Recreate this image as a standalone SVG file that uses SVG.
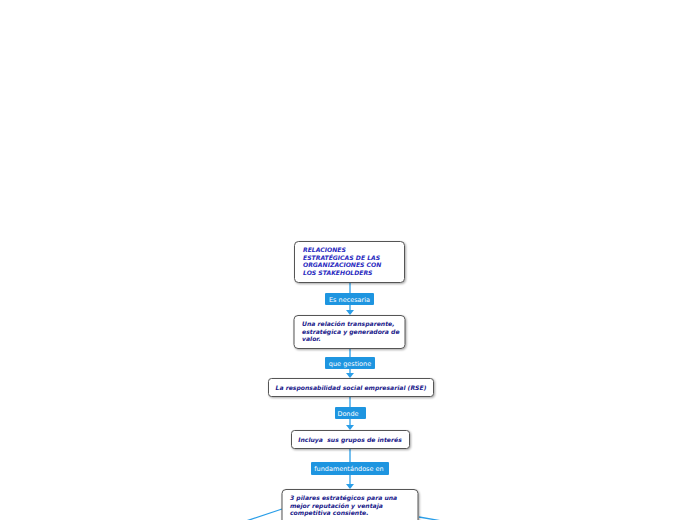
<svg xmlns="http://www.w3.org/2000/svg" width="696" height="520" viewBox="0 0 696 520">
<defs>
<style>
.box{fill:#fff;stroke:#555;stroke-width:1;filter:url(#sh)}
.t{font-family:"DejaVu Sans",Verdana,sans-serif;font-size:6.1px;font-weight:bold;font-style:italic;fill:#1a1a8a}
.t1{fill:#2a2ac0}
.lbl{fill:#1e95e0}
.lt{font-family:"DejaVu Sans",Verdana,sans-serif;font-size:6.5px;fill:#fff;text-anchor:middle}
.ln{stroke:#2a9ee8;stroke-width:1.3;fill:none}
.ar{fill:#2a9ee8}
</style>
<filter id="sh" x="-10%" y="-20%" width="130%" height="160%">
<feDropShadow dx="1" dy="1" stdDeviation="0.8" flood-color="#000" flood-opacity="0.35"/>
</filter>
</defs>
<rect width="696" height="520" fill="#fff"/>
<g id="connectors">
<line class="ln" x1="350" y1="283" x2="350" y2="311"/>
<polygon class="ar" points="346,310 354,310 350,315"/>
<line class="ln" x1="350" y1="349" x2="350" y2="374"/>
<polygon class="ar" points="346,373 354,373 350,378"/>
<line class="ln" x1="350" y1="397" x2="350" y2="426"/>
<polygon class="ar" points="346,425 354,425 350,430"/>
<line class="ln" x1="350" y1="449" x2="350" y2="485"/>
<polygon class="ar" points="346,484 354,484 350,489"/>
<line class="ln" x1="282" y1="509" x2="246" y2="521"/>
<line class="ln" x1="419" y1="517" x2="442" y2="521"/>
<g id="l1"><rect class="lbl" x="325" y="293" width="49" height="12" rx="1"/><text class="lt" x="349.5" y="301.5">Es necesaria</text></g>
<g id="l2"><rect class="lbl" x="325" y="357" width="50" height="12" rx="1"/><text class="lt" x="350" y="365.5">que gestione</text></g>
<g id="l3"><rect class="lbl" x="335" y="407" width="31" height="12" rx="1"/><text class="lt" x="348" y="415.5">Donde</text></g>
<g id="l4"><rect class="lbl" x="311" y="462" width="78" height="13" rx="1"/><text class="lt" x="349" y="471">fundamentándose en</text></g>
</g>
<g id="n1">
<rect class="box" x="294.5" y="241.5" width="110" height="41" rx="4"/>
<text class="t t1"><tspan x="303" y="252">RELACIONES</tspan><tspan x="303" y="259.7">ESTRATÉGICAS DE LAS</tspan><tspan x="303" y="267.4">ORGANIZACIONES CON</tspan><tspan x="303" y="275.1">LOS STAKEHOLDERS</tspan></text>
</g>
<g id="n2">
<rect class="box" x="294" y="315.5" width="111" height="33" rx="4"/>
<text class="t"><tspan x="302" y="326">Una relación transparente,</tspan><tspan x="302" y="333.5">estratégica y generadora de</tspan><tspan x="302" y="341">valor.</tspan></text>
</g>
<g id="n3">
<rect class="box" x="268.5" y="378.5" width="165" height="18" rx="3"/>
<text class="t" x="351" y="390" text-anchor="middle">La responsabilidad social empresarial (RSE)</text>
</g>
<g id="n4">
<rect class="box" x="291.5" y="430.5" width="118" height="18" rx="3"/>
<text class="t" x="350" y="442" text-anchor="middle" xml:space="preserve">Incluya  sus grupos de interés</text>
</g>
<g id="n5">
<rect class="box" x="282" y="489.5" width="136" height="40" rx="4"/>
<text class="t"><tspan x="290" y="500">3 pilares estratégicos para una</tspan><tspan x="290" y="507.5">mejor reputación y ventaja</tspan><tspan x="290" y="515">competitiva consiente.</tspan></text>
</g>
</svg>
